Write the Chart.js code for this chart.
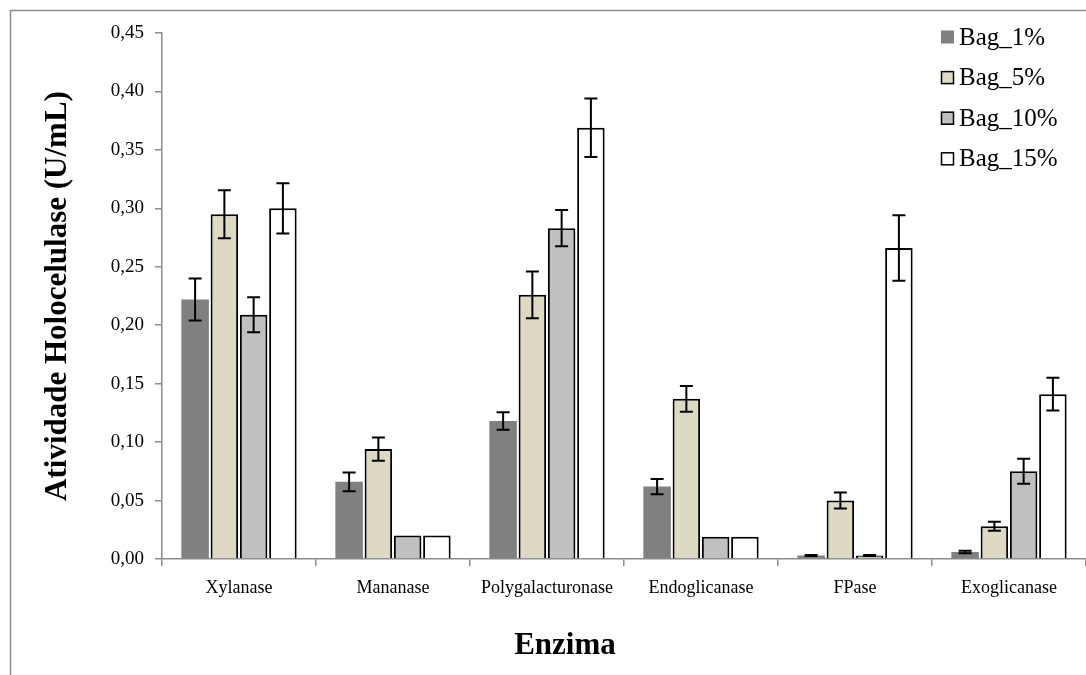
<!DOCTYPE html>
<html>
<head>
<meta charset="utf-8">
<script src="https://cdn.jsdelivr.net/npm/chart.js@4/dist/chart.umd.min.js"></script>
<style>
  html, body { margin: 0; padding: 0; background: #fff; }
  #wrap { width: 1086px; height: 675px; position: relative; }
</style>
</head>
<body>
<div id="wrap"><canvas id="grafico"></canvas></div>
<script>
// ---- datos ----
const enzimas = ["Xylanase", "Mananase", "Polygalacturonase", "Endoglicanase", "FPase", "Exoglicanase"];
const yTicks = [0, 0.05, 0.10, 0.15, 0.20, 0.25, 0.30, 0.35, 0.40, 0.45];

const bag1 = [0.222, 0.066, 0.118, 0.062, 0.003, 0.006];
const bag5 = [0.295, 0.094, 0.226, 0.137, 0.050, 0.028];
const bag10 = [0.209, 0.020, 0.283, 0.019, 0.003, 0.075];
const bag15 = [0.300, 0.020, 0.369, 0.019, 0.266, 0.141];

const err1 = [0.018, 0.008, 0.0075, 0.0065, 0.0005, 0.001];
const err5 = [0.0205, 0.010, 0.020, 0.011, 0.0068, 0.0038];
const err10 = [0.015, 0, 0.0155, 0, 0.0005, 0.0107];
const err15 = [0.0215, 0, 0.025, 0, 0.028, 0.014];

const GRIS = "#8c8c8c";
const FUENTE = "'Liberation Serif', 'Times New Roman', serif";

// marco exterior
const marco = {
  id: "marco",
  beforeDraw(chart) {
    const ctx = chart.ctx;
    ctx.save();
    ctx.strokeStyle = GRIS;
    ctx.lineWidth = 1.5;
    ctx.strokeRect(10.5, 10.5, 1200, 800);
    ctx.restore();
  }
};

// barras de error
const barrasError = {
  id: "barrasError",
  afterDatasetsDraw(chart) {
    const ctx = chart.ctx;
    const y = chart.scales.y;
    ctx.save();
    ctx.strokeStyle = "#000";
    ctx.lineWidth = 2;
    chart.data.datasets.forEach((ds, i) => {
      const meta = chart.getDatasetMeta(i);
      meta.data.forEach((bar, j) => {
        const e = ds.errores[j];
        if (!e) return;
        const v = ds.data[j];
        const top = y.getPixelForValue(v + e);
        const bot = y.getPixelForValue(Math.max(v - e, 0));
        ctx.beginPath();
        ctx.moveTo(bar.x, top); ctx.lineTo(bar.x, bot);
        ctx.moveTo(bar.x - 6.5, top); ctx.lineTo(bar.x + 6.5, top);
        ctx.moveTo(bar.x - 6.5, bot); ctx.lineTo(bar.x + 6.5, bot);
        ctx.stroke();
      });
    });
    ctx.restore();
  }
};

// leyenda y titulo X
const extras = {
  id: "extras",
  afterDraw(chart) {
    const ctx = chart.ctx;
    ctx.save();
    ctx.textBaseline = "middle";
    ctx.font = "25px " + FUENTE;
    chart.data.datasets.forEach((ds, i) => {
      const cy = 37 + i * 40.6;
      ctx.fillStyle = ds.backgroundColor;
      ctx.fillRect(941, cy - 6.5, 13, 13);
      if (ds.borderWidth) {
        ctx.strokeStyle = "#000";
        ctx.lineWidth = 1.5;
        ctx.strokeRect(941.5, cy - 6, 12, 12);
      }
      ctx.fillStyle = "#000";
      ctx.fillText(ds.label, 959, cy + 1);
    });
    ctx.font = "bold 31px " + FUENTE;
    ctx.textAlign = "center";
    ctx.fillText("Enzima", 565, 646);
    ctx.restore();
  }
};

function serie(label, data, errores, color, borde) {
  return {
    label, data, errores,
    backgroundColor: color,
    borderColor: "#000",
    borderWidth: borde,
    borderSkipped: "bottom",
    categoryPercentage: 0.76,
    barPercentage: 0.94
  };
}

new Chart(document.getElementById("grafico"), {
  type: "bar",
  data: {
    labels: enzimas,
    datasets: [
      serie("Bag_1%", bag1, err1, "#808080", 0),
      serie("Bag_5%", bag5, err5, "#ddd9c3", 2),
      serie("Bag_10%", bag10, err10, "#c0c0c0", 2),
      serie("Bag_15%", bag15, err15, "#ffffff", 2)
    ]
  },
  options: {
    responsive: true,
    maintainAspectRatio: false,
    animation: false,
    layout: { padding: { top: 33, left: 10, right: 0, bottom: 0 } },
    plugins: { legend: { display: false }, tooltip: { enabled: false } },
    scales: {
      x: {
        offset: true,
        grid: { offset: true, drawOnChartArea: false, drawTicks: true, tickLength: 7, color: GRIS, lineWidth: 1.5 },
        border: { color: GRIS, width: 1.5 },
        ticks: { color: "#000", font: { family: FUENTE, size: 18 }, padding: 11, maxRotation: 0 },
        afterFit: s => { s.height = 116; }
      },
      y: {
        min: 0,
        max: 0.45,
        grid: { drawOnChartArea: false, drawTicks: true, tickLength: 7, color: GRIS, lineWidth: 1.5 },
        border: { color: GRIS, width: 1.5 },
        afterBuildTicks: s => { s.ticks = yTicks.map(v => ({ value: v })); },
        ticks: {
          color: "#000",
          font: { family: FUENTE, size: 19 },
          padding: 11,
          callback: v => v.toFixed(2).replace(".", ",")
        },
        title: {
          display: true,
          text: "Atividade Holocelulase (U/mL)",
          color: "#000",
          font: { family: FUENTE, size: 31, weight: "bold" },
          padding: { top: 29, bottom: 0 }
        },
        afterFit: s => { s.width = 152; }
      }
    }
  },
  plugins: [marco, barrasError, extras]
});
</script>
</body>
</html>
